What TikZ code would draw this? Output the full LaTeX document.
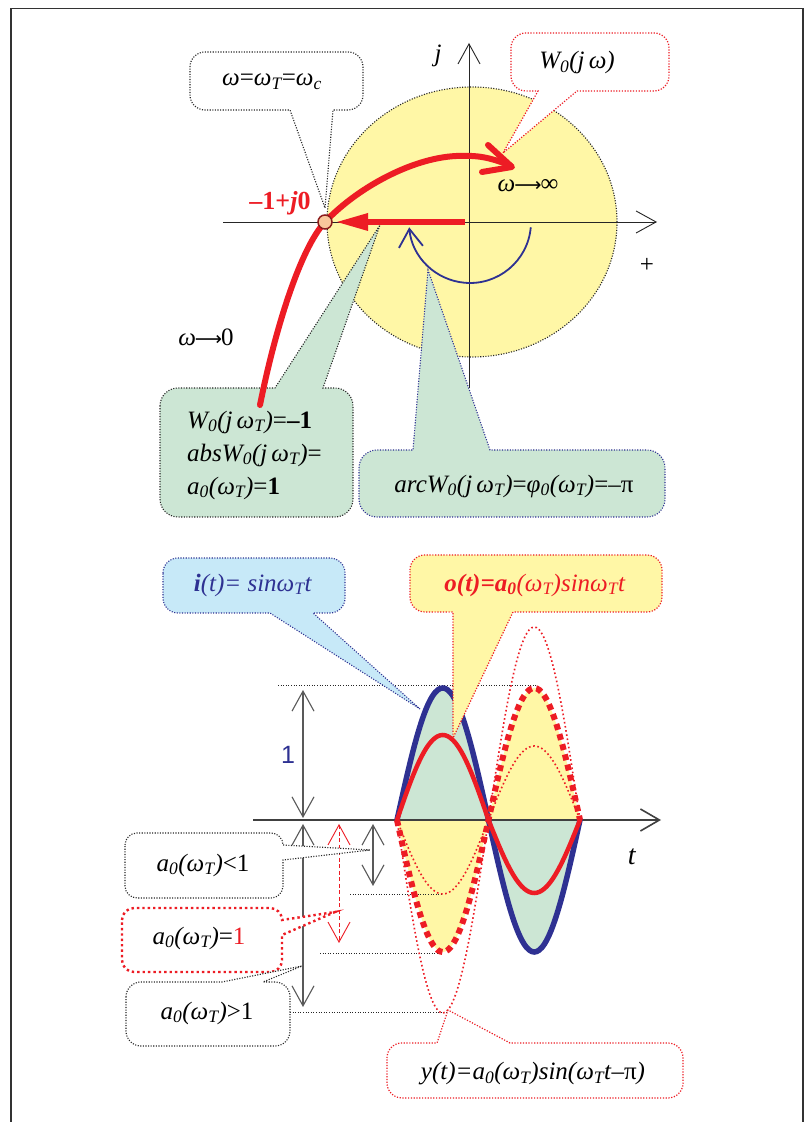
\documentclass[tikz,border=0pt]{standalone}
\usepackage{fontspec}
\setmainfont{Liberation Serif}
\newfontfamily\lsans{Liberation Sans}
\newfontfamily\djv{DejaVu Sans}
\usetikzlibrary{arrows.meta,shapes.geometric}
\definecolor{cred}{HTML}{ED1C24}
\definecolor{cblue}{HTML}{2E3192}
\definecolor{cgreen}{HTML}{CCE6D4}
\definecolor{cyellow}{HTML}{FFF7A6}
\definecolor{clblue}{HTML}{C7E9F8}
\definecolor{cpeach}{HTML}{F9C89B}
\definecolor{cdred}{HTML}{8C1D1D}
\newcommand\sbs[1]{\textsubscript{#1}}
\newcommand\rarr{\kern-1pt{\djv\fontsize{19}{30}\selectfont ⟶}\kern-1pt}
% rounded box with tail on bottom / top / right: L R T B r a b tx ty
\newcommand\cB[9]{(#1,#3-#5) arc[start angle=180,end angle=90,radius=#5] -- (#2-#5,#3) arc[start angle=90,end angle=0,radius=#5] -- (#2,#4+#5) arc[start angle=0,end angle=-90,radius=#5] -- (#7,#4) -- (#8,#9) -- (#6,#4) -- (#1+#5,#4) arc[start angle=270,end angle=180,radius=#5] -- cycle}
\newcommand\cT[9]{(#1,#3-#5) arc[start angle=180,end angle=90,radius=#5] -- (#6,#3) -- (#8,#9) -- (#7,#3) -- (#2-#5,#3) arc[start angle=90,end angle=0,radius=#5] -- (#2,#4+#5) arc[start angle=0,end angle=-90,radius=#5] -- (#1+#5,#4) arc[start angle=270,end angle=180,radius=#5] -- cycle}
\newcommand\cR[9]{(#1,#3-#5) arc[start angle=180,end angle=90,radius=#5] -- (#2-#5,#3) arc[start angle=90,end angle=0,radius=#5] -- (#2,#6) -- (#8,#9) -- (#2,#7) -- (#2,#4+#5) arc[start angle=0,end angle=-90,radius=#5] -- (#1+#5,#4) arc[start angle=270,end angle=180,radius=#5] -- cycle}
\tikzset{
 dotk/.style={draw=black!85, line width=1.1pt, dash pattern=on 1.1pt off 1.5pt},
 dotr/.style={draw=cred, line width=1.2pt, dash pattern=on 1.2pt off 1.6pt},
 dotrb/.style={draw=cred, line width=2.4pt, dash pattern=on 2.4pt off 3pt},
 dotb/.style={draw=cblue, line width=1.1pt, dash pattern=on 1.1pt off 1.5pt},
 barb/.style={-{Straight Barb[length=20pt,width=22pt]}},
 dbarb/.style={{Straight Barb[length=20pt,width=22pt]}-{Straight Barb[length=20pt,width=22pt]}},
 axtop/.style={draw=black!85, line width=0.9pt, barb},
 axbot/.style={draw=black!75, line width=1.6pt, -{Straight Barb[length=19pt,width=22pt]}},
 varr/.style={draw=black!65, line width=1.1pt, dbarb},
 varrr/.style={draw=cred, line width=0.9pt, dash pattern=on 4pt off 2.5pt, dbarb},
 hdot/.style={draw=black!85, line width=1pt, dash pattern=on 1pt off 1.6pt},
 bluewave/.style={draw=cblue, line width=5.5pt, line cap=round},
 redwave/.style={draw=cred, line width=4.5pt, line cap=round},
 reddotthick/.style={draw=cred, line width=6pt, dash pattern=on 6pt off 4.5pt},
 reddotthin/.style={draw=cred, line width=1.6pt, dash pattern=on 1.6pt off 2.6pt},
 frame/.style={draw=black!80, line width=1.4pt},
}
\begin{document}
\begin{tikzpicture}[x=1pt,y=1pt,
  every node/.style={inner sep=0pt, font=\fontsize{25}{30}\selectfont}]
\useasboundingbox (0,0) rectangle (805,1122);
\fill[white] (0,0) rectangle (805,1122);
% frame
\draw[frame] (11,0) -- (11,1113.5) -- (803,1113.5) -- (803,0);

% ================= TOP: Nyquist plane =================
\node[ellipse, draw=black!85, fill=cyellow, line width=1.1pt, dash pattern=on 1.1pt off 1.5pt,
      minimum width=290pt, minimum height=270pt, inner sep=0pt, outer sep=0pt] (disk) at (472,900) {};
\coordinate (hx0) at (223,900); \coordinate (hx1) at (657,900);
\coordinate (vy0) at (469,734); \coordinate (vy1) at (469,1079);
\draw[axtop] (hx0) -- (hx1);
\draw[axtop] (vy0) -- (vy1);

% callouts (top)
\draw[dotk, fill=white] \cB{190}{363}{1070}{1012}{15}{290}{333}{325}{914};
\node (wc) at (272,1040) {\textit{ω}=\textit{ω\sbs{T}}=\textit{ω\sbs{c}}};
\draw[dotr, fill=white] \cB{511}{669}{1089}{1031}{15}{538}{577}{503}{969};
\node (wj) at (577,1059) {\textit{W\sbs{0}(j\,ω)}};
\draw[dotk, fill=cgreen] \cT{160}{353}{734}{605}{18}{275}{323}{380}{897};
\node[align=left, anchor=west, font=\fontsize{25}{33}\selectfont] (gl) at (187,667)
  {\textit{W\sbs{0}(j\,ω\sbs{T})}=\textbf{–1}\\ \textit{absW\sbs{0}(j\,ω\sbs{T})}=\\ \textit{a\sbs{0}(ω\sbs{T})}=\textbf{1}};
\draw[dotb, fill=cgreen] \cT{359}{665}{672}{605}{18}{413}{490}{428}{852};
\node (gr) at (514,636) {\textit{arcW\sbs{0}(j\,ω\sbs{T})}=\textit{φ\sbs{0}(ω\sbs{T})}=–π};

% blue phase arc
\coordinate (org) at (470,900);
\draw[cblue, line width=1.8pt, -{Straight Barb[length=18pt,width=24pt]}]
  ([shift={(-5:61)}]org) arc[start angle=-5, end angle=-175, radius=61];

% red frequency locus
\draw[cred, line width=6pt, line cap=round]
  (260,717) .. controls (275,792) and (300,873) .. (325,900)
  .. controls (360,937) and (420,968) .. (465,966)
  .. controls (482,966.7) and (497,962) .. (511,956);
\draw[cred, line width=6pt, line cap=round, line join=round] (488,977) -- (512,955) -- (482,950);
% red horizontal arrow to -1+j0
\coordinate (rs) at (465,900);
\coordinate (rtip) at (337,900);
\draw[cred, line width=6pt] (rs) -- (366,900);
\fill[cred] (rtip) -- (368,909) -- (368,891) -- cycle;
\node[circle, draw=cdred, fill=cpeach, line width=1.5pt, minimum size=14pt, inner sep=0pt] (m1) at (325,900) {};

% labels (top)
\node[text=cred, font=\bfseries\fontsize{26}{30}\selectfont] (lab) at (280,919) {–1+\textit{j}0};
\node (winf) at (528,936) {\textit{ω}\rarr∞};
\node (wzero) at (206,785) {\textit{ω}\rarr0};
\node (jl) at (438,1066) {\textit{j}};
\node (pl) at (647,857) {+};

% ================= BOTTOM: time signals =================
\fill[cgreen] plot[domain=0:360, samples=73, smooth] ({397+\x/360*183},{302+132*sin(\x)}) -- cycle;
\fill[cyellow] plot[domain=0:360, samples=73, smooth] ({397+\x/360*183},{302-132*sin(\x)}) -- cycle;

\coordinate (tx0) at (253,302); \coordinate (tx1) at (661,302);
\draw[axbot] (tx0) -- (tx1);

% dotted level lines
\draw[hdot] (278,436) -- (537,436);
\draw[hdot] (350,227) -- (443,227);
\draw[hdot] (320,168) -- (442,168);
\draw[hdot] (290,109) -- (447,109);

% waves
\draw[bluewave] plot[domain=0:360, samples=73, smooth] ({397+\x/360*183},{302+132*sin(\x)});
\draw[redwave] plot[domain=0:180, samples=37, smooth] ({397+\x/360*183},{302+85*sin(\x)})
  -- plot[domain=180:360, samples=37, smooth] ({397+\x/360*183},{302+73*sin(\x)});
\draw[reddotthin] plot[domain=0:360, samples=73, smooth] ({397+\x/360*183},{302-74*sin(\x)});
\draw[reddotthin] plot[domain=0:360, samples=73, smooth] ({397+\x/360*183},{302-193*sin(\x)});
\draw[reddotthick] plot[domain=0:360, samples=73, smooth] ({397+\x/360*183},{302-132*sin(\x)});

% vertical amplitude arrows
\coordinate (a1t) at (303,432); \coordinate (a1b) at (303,304);
\coordinate (a2t) at (303,298); \coordinate (a2b) at (303,115);
\coordinate (a3t) at (339,298); \coordinate (a3b) at (339,179);
\coordinate (a4t) at (373,298); \coordinate (a4b) at (373,236);
\draw[varr] (a1t) -- (a1b);
\draw[varr] (a2t) -- (a2b);
\draw[varrr] (a3t) -- (a3b);
\draw[varr] (a4t) -- (a4b);
\node[text=cblue, font=\lsans\fontsize{25}{30}\selectfont] (one) at (288,367) {1};
\node[font=\fontsize{28}{30}\selectfont] (tl) at (632,265) {\textit{t}};

% callouts (bottom)
\draw[dotb, fill=clblue] \cB{163}{345}{564}{509}{15}{270}{313}{420}{413};
\node[text=cblue] (it) at (253,537) {\textbf{\textit{i}}\textit{(t)= sinω\sbs{T}t}};
\draw[dotr, fill=cyellow] \cB{410}{662}{567}{510}{15}{453}{513}{453}{384};
\node[text=cred] (ot) at (535,537) {\textbf{\textit{o(t)=a\sbs{0}}}\textit{(ω\sbs{T})sinω\sbs{T}t}};

\draw[dotk, fill=white] \cR{125}{283}{289}{224}{12}{277}{262}{370}{272};
\node (l1) at (203,257) {\textit{a\sbs{0}(ω\sbs{T})}<1};
\draw[dotrb, fill=white] \cR{122}{282}{214}{150}{12}{202}{187}{335}{210};
\node (l2) at (199,184) {\textit{a\sbs{0}(ω\sbs{T})}=\textcolor{cred}{1}};
\draw[dotk, fill=white] \cT{126}{290}{140}{76}{15}{222}{263}{302}{156};
\node (l3) at (207,109) {\textit{a\sbs{0}(ω\sbs{T})}>1};
\draw[dotr, fill=white] \cT{387}{683}{79}{24}{15}{437}{510}{448}{112};
\node (yt) at (533,48) {\textit{y(t)=a\sbs{0}(ω\sbs{T})sin(ω\sbs{T}t}–π\textit{)}};
\end{tikzpicture}
\end{document}
